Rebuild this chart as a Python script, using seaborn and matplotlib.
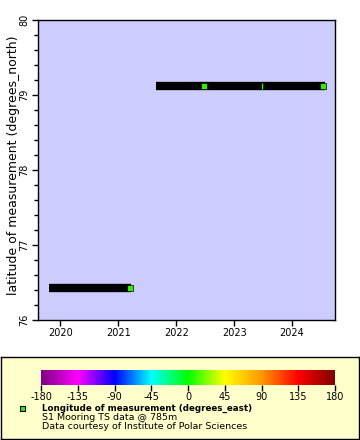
import numpy as np
import pandas as pd
import matplotlib
matplotlib.use("Agg")
import matplotlib.pyplot as plt
import seaborn as sns
from matplotlib.colors import LinearSegmentedColormap, Normalize
from matplotlib.patches import Rectangle
from matplotlib.ticker import MultipleLocator, FixedLocator

# ---- data ----
seg_id = ["A", "A", "B", "B"]
seg_time = [2019.80, 2021.22, 2021.65, 2024.56]
seg_lat = [76.43, 76.43, 79.12, 79.12]

pt_time = [2021.20, 2022.48, 2024.53]
pt_lat = [76.43, 79.12, 79.12]
tick_pt_time = [2023.48]
tick_pt_lat = [79.12]

year_ticks = [2020, 2021, 2022, 2023, 2024]
lat_ticks = [76, 77, 78, 79, 80]
cbar_ticks = [-180, -135, -90, -45, 0, 45, 90, 135, 180]
cbar_colors = ["#800080", "#ff00ff", "#0000ff", "#00ffff", "#00ff00",
               "#ffff00", "#ff9900", "#ff0000", "#800000"]
marker_color = "#33ee00"

title_lines = ["Longitude of measurement (degrees_east)",
               "S1 Mooring TS data @ 785m",
               "Data courtesy of Institute of Polar Sciences"]

sns.set_theme(style="white")
plt.rcParams['font.family'] = ['DejaVu Sans']

fig = plt.figure(figsize=(3.6, 4.4), dpi=100)
fig.patch.set_facecolor("white")

# legend background box (drawn first, behind everything)
box_ax = fig.add_axes([0.5/360, 1/440, 358.5/360, 82/440], zorder=-1)
box_ax.set_facecolor("#ffffcc")
box_ax.set_xticks([]); box_ax.set_yticks([])
for sp in box_ax.spines.values():
    sp.set_color("black"); sp.set_linewidth(1.0)

ax = fig.add_axes([37.7/360, 1-320/440, (335-37.7)/360, 300/440])
ax.set_facecolor("#ccccff")

df_seg = pd.DataFrame({"seg": seg_id, "time": seg_time, "lat": seg_lat})
sns.lineplot(data=df_seg, x="time", y="lat", units="seg", estimator=None,
             color="black", lw=6, solid_capstyle="butt", ax=ax, legend=False)

df_pt = pd.DataFrame({"time": pt_time, "lat": pt_lat})
sns.scatterplot(data=df_pt, x="time", y="lat", marker="s", s=22,
                color=marker_color, edgecolor="black", linewidth=0.5,
                ax=ax, legend=False, zorder=5)
df_tp = pd.DataFrame({"time": tick_pt_time, "lat": tick_pt_lat})
sns.scatterplot(data=df_tp, x="time", y="lat", marker="|", s=18,
                color=marker_color, linewidth=1.0, ax=ax, legend=False, zorder=5)

ax.set_xlim(2019.61, 2024.74)
ax.set_ylim(76, 80)
ax.xaxis.set_major_locator(FixedLocator(year_ticks))
ax.set_xticklabels([str(y) for y in year_ticks])
ax.yaxis.set_major_locator(FixedLocator(lat_ticks))
ax.yaxis.set_minor_locator(MultipleLocator(0.2))
ax.set_yticklabels([str(v) for v in lat_ticks])
ax.tick_params(axis="both", which="major", direction="out", length=4,
               width=1, color="black", labelsize=7, pad=2, labelcolor="black")
ax.tick_params(axis="y", which="minor", direction="out", length=3, width=1,
               color="black", left=True)
ax.tick_params(axis="x", which="both", bottom=True)
ax.tick_params(axis="y", which="both", left=True)
ax.tick_params(axis="y", labelrotation=90)
for lab in ax.get_yticklabels():
    lab.set_va("center")
for sp in ax.spines.values():
    sp.set_color("black")
    sp.set_linewidth(1.0)
ax.set_xlabel("")
ax.set_ylabel("latitude of measurement (degrees_north)", fontsize=9,
              color="black")
ax.yaxis.set_label_coords((20 - 37.7) / 297.3, (320 - 165.5) / 300)

# ---- colorbar ----
cax = fig.add_axes([41/360, 1-385/440, 294/360, 15/440], zorder=2)
cmap = LinearSegmentedColormap.from_list(
    "erddap", list(zip(np.linspace(0, 1, len(cbar_colors)), cbar_colors)))
norm = Normalize(-180, 180)
cb = fig.colorbar(plt.cm.ScalarMappable(norm=norm, cmap=cmap), cax=cax,
                  orientation="horizontal", ticks=cbar_ticks)
cb.outline.set_visible(False)
cax.tick_params(direction="out", length=4, width=1, color="black",
                labelsize=7, pad=1, labelcolor="black", bottom=True)
cax.set_xticklabels([str(t) for t in cbar_ticks])

fig.add_artist(Rectangle((19.5/360, 1-410.5/440), 5/360, 5/440,
                         transform=fig.transFigure, facecolor=marker_color,
                         edgecolor="black", linewidth=0.8, zorder=3))
fig.text(42/360, 1-408/440, title_lines[0], fontsize=6.3, fontweight="bold",
         va="center", ha="left", color="black")
fig.text(42/360, 1-417.5/440, title_lines[1], fontsize=6.8,
         va="center", ha="left", color="black")
fig.text(42/360, 1-426.5/440, title_lines[2], fontsize=6.8,
         va="center", ha="left", color="black")

fig.savefig("out.png", dpi=100)
